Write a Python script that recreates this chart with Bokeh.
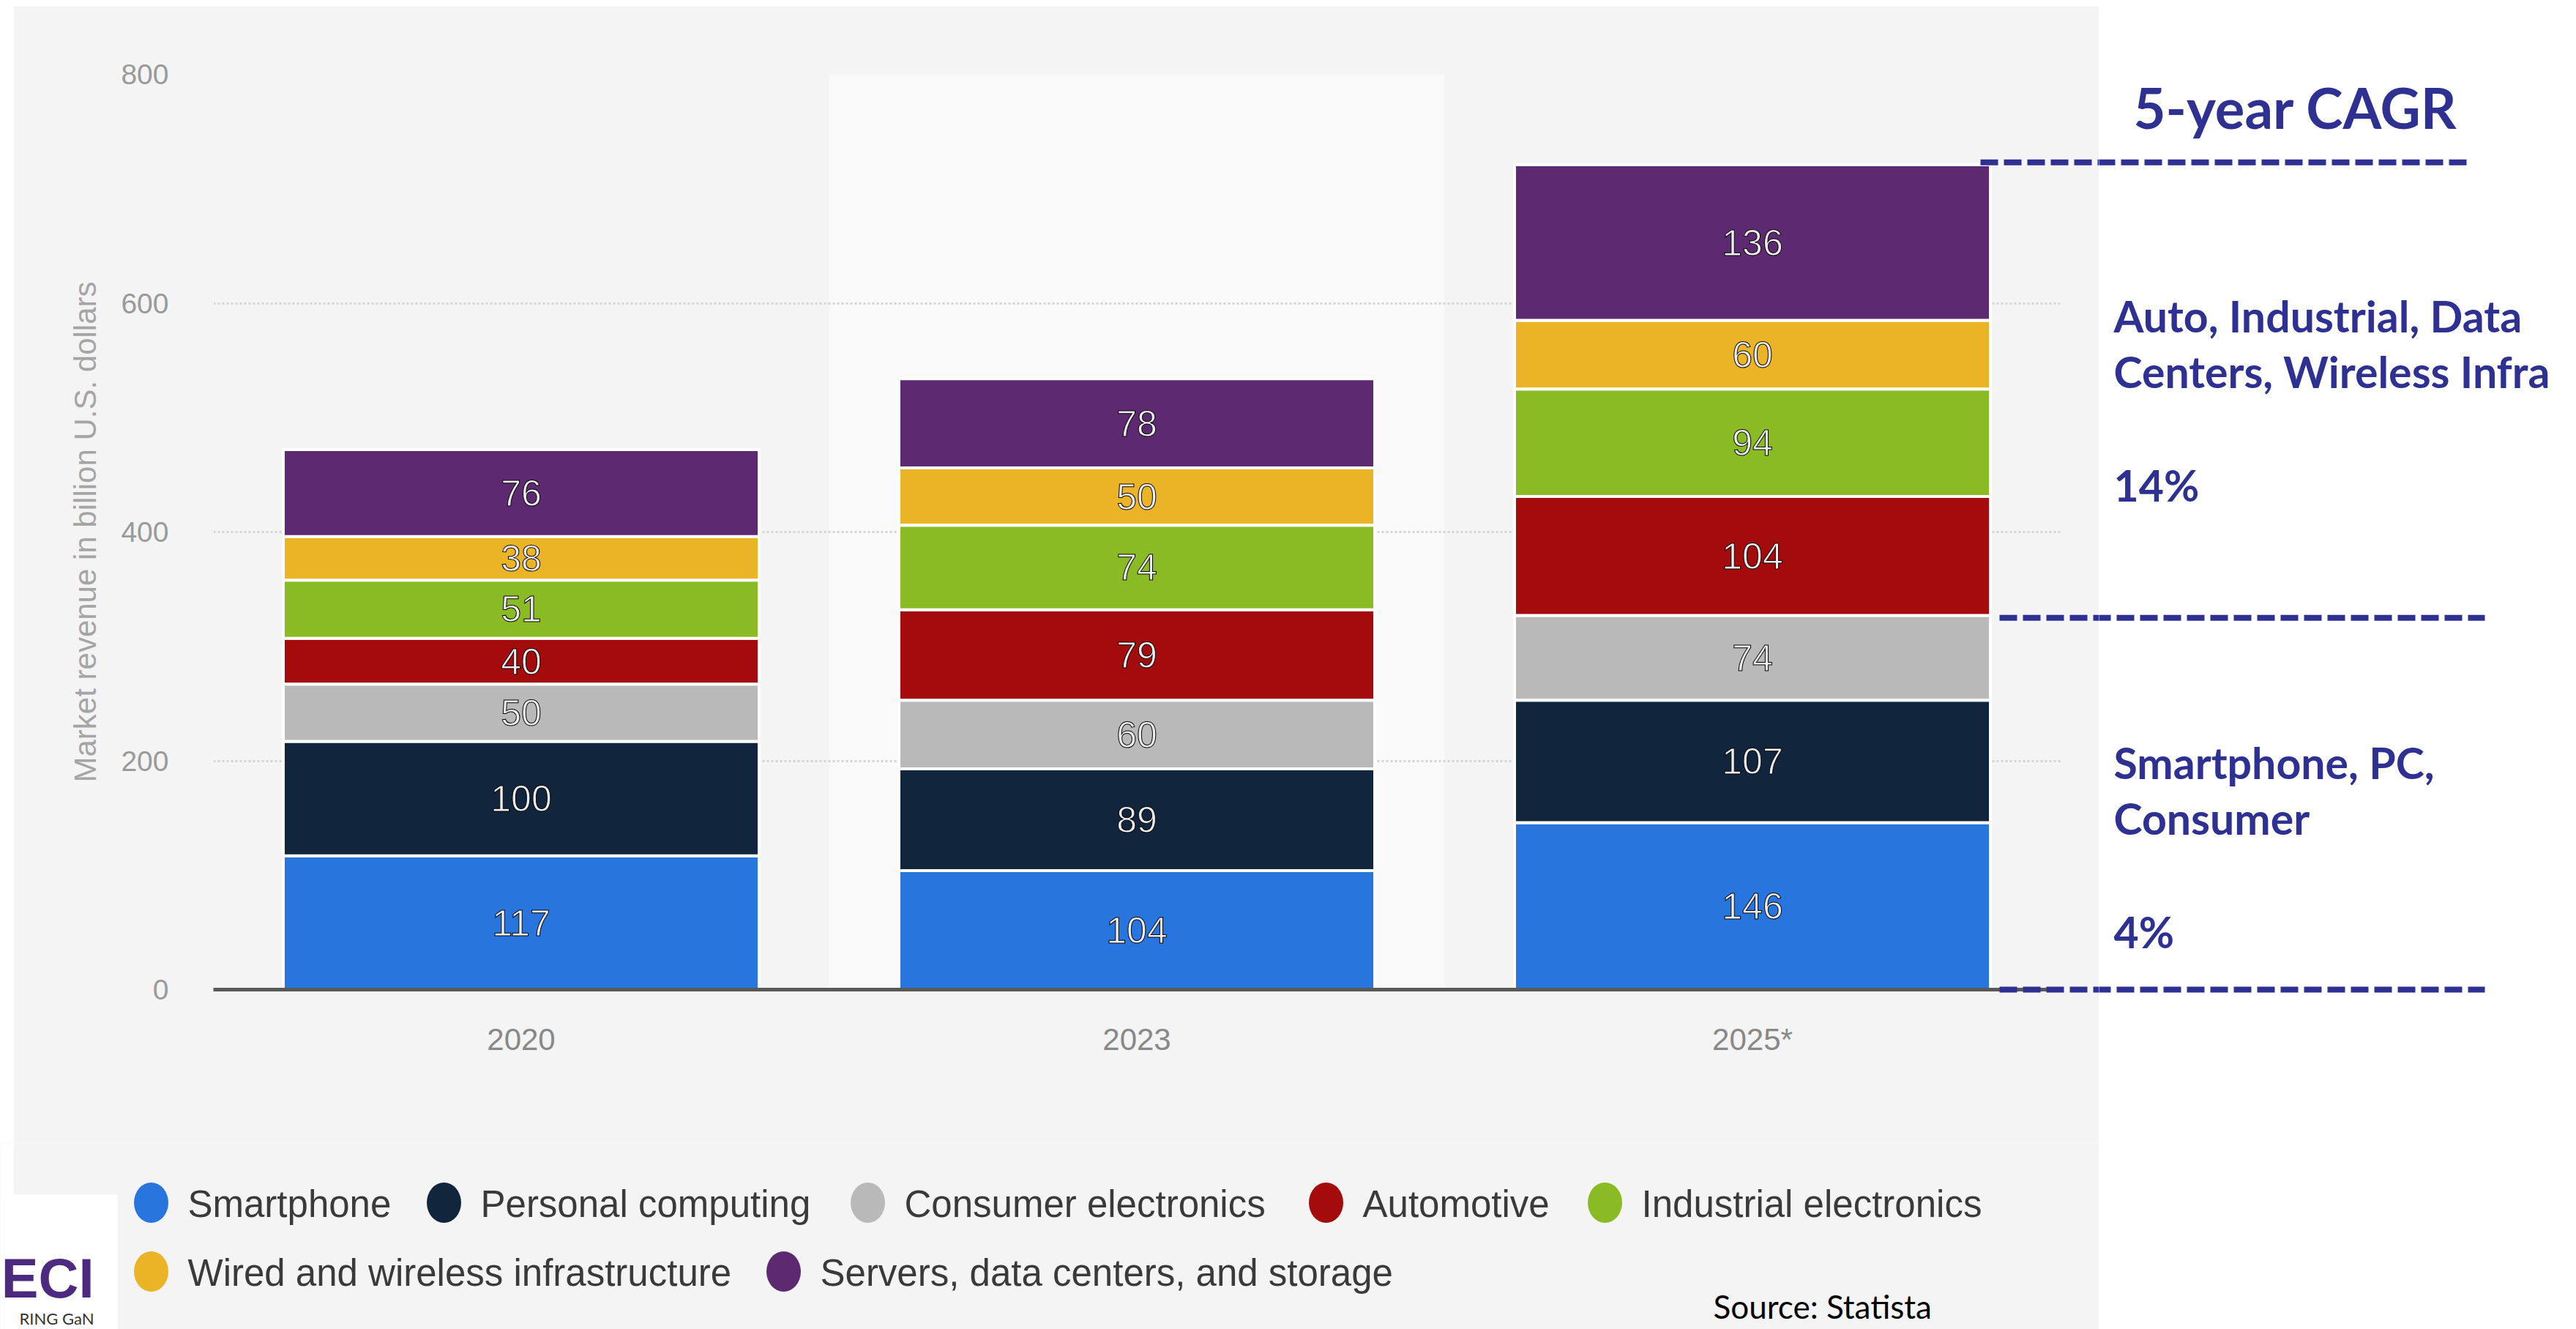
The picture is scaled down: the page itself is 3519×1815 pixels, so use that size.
import numpy as np
from bokeh.plotting import figure
from bokeh.models import Range1d, FixedTicker, Spacer, ColumnDataSource
from bokeh.layouts import row, column
from bokeh.embed import file_html
from bokeh.resources import INLINE
from bokeh.core.properties import value

# ---------------- data ----------------
YEARS = ["2020", "2023", "2025*"]
SERIES = ["Smartphone", "Personal computing", "Consumer electronics", "Automotive",
          "Industrial electronics", "Wired and wireless infrastructure",
          "Servers, data centers, and storage"]
smartphone = [117, 104, 146]
personal_computing = [100, 89, 107]
consumer_electronics = [50, 60, 74]
automotive = [40, 79, 104]
industrial_electronics = [51, 74, 94]
wired_wireless_infrastructure = [38, 50, 60]
servers_data_centers_storage = [76, 78, 136]
Y_TICKS = [0, 200, 400, 600, 800]
Y_MAX = 800
Y_LABEL = "Market revenue in billion U.S. dollars"
HIGHLIGHT = "2023"
CAGR_TITLE = "5-year CAGR"
CAGR_LEVELS = [723, 325, 0]
CAGR_GROUPS = [["Auto, Industrial, Data", "Centers, Wireless Infra"],
               ["Smartphone, PC,", "Consumer"]]
CAGR_RATES = ["14%", "4%"]
SOURCE = "Source: Statista"
LOGO_MARK = "ECI"
LOGO_TAG = "RING GaN"

# ---------------- styles ----------------
COLORS = ["#2876DD", "#11263C", "#B9B9B9", "#A30B0D", "#8ABB24", "#EBB426", "#5D2A72"]
GREY = "#F4F4F4"
NAVY = "#2E3192"
SANS = "Liberation Sans"
CAL = "Lato"

# ---------------- layout (screen px) ----------------
W, H = 3519, 1815
PANEL_L, PANEL_T = 18, 8
SPLIT_X = 2867
FRAME_L, FRAME_T, FRAME_B = 291, 101, 1351
BAND_PX = 841
BAR_W = 0.773
LEGEND_T = 1560
LOGO_R, LOGO_T = 160, 1631
PXU = (FRAME_B - FRAME_T) / Y_MAX
CAGR_X0 = [2705, 2731, 2731]
CAGR_X1 = [3369, 3394, 3394]
LEG_CX = [206, 606, 1185, 1811, 2192, 206, 1070]
LEG_CY = [1642, 1642, 1642, 1642, 1642, 1736, 1736]


def to_v(sy):
    return (FRAME_B - sy) / PXU


# ---------------- main chart ----------------
X0 = 0.5
X_END = X0 + (SPLIT_X - FRAME_L) / BAND_PX
xs = [i + 1 for i in range(len(YEARS))]

p = figure(width=SPLIT_X - PANEL_L, height=LEGEND_T - PANEL_T,
           x_range=Range1d(X0, X_END), y_range=Range1d(0, Y_MAX),
           output_backend="svg", toolbar_location=None, tools="",
           min_border_left=FRAME_L - PANEL_L, min_border_right=0,
           min_border_top=FRAME_T - PANEL_T, min_border_bottom=LEGEND_T - FRAME_B,
           background_fill_color=GREY, border_fill_color=GREY,
           outline_line_color=None)

hi = YEARS.index(HIGHLIGHT)
p.vbar(x=[xs[hi]], width=1.0, bottom=0, top=[Y_MAX], fill_color="#F9F9F9",
       line_color=None, level="image")

keys = ["smartphone", "personal_computing", "consumer_electronics", "automotive",
        "industrial_electronics", "wired_wireless_infrastructure",
        "servers_data_centers_storage"]
series_vals = [smartphone, personal_computing, consumer_electronics, automotive,
               industrial_electronics, wired_wireless_infrastructure,
               servers_data_centers_storage]
data = dict(x=xs)
for k, v in zip(keys, series_vals):
    data[k] = v
src = ColumnDataSource(data)
p.vbar_stack(keys, x="x", width=BAR_W, source=src, fill_color=COLORS,
             line_color="white", line_width=4)

vals = np.array(series_vals, dtype=float)
tops = vals.cumsum(axis=0)
mids = tops - vals / 2
lx = np.tile(xs, len(series_vals))
p.text(x=lx, y=mids.ravel(), text=[str(int(v)) for v in vals.ravel()],
       text_align="center", text_baseline="middle", text_color="#EEEEEE",
       text_outline_color="black", text_font=value(SANS), text_font_size="50px")

p.segment(x0=[X0 + (s - FRAME_L) / BAND_PX for s in CAGR_X0], y0=CAGR_LEVELS,
          x1=[X_END] * len(CAGR_LEVELS), y1=CAGR_LEVELS, line_color=NAVY,
          line_width=8, line_dash="24 8", level="overlay")

p.yaxis.ticker = FixedTicker(ticks=Y_TICKS)
p.yaxis.axis_line_color = None
p.yaxis.major_tick_line_color = None
p.yaxis.minor_tick_line_color = None
p.yaxis.major_tick_out = 0
p.yaxis.major_tick_in = 0
p.yaxis.major_label_text_font = SANS
p.yaxis.major_label_text_font_size = "39px"
p.yaxis.major_label_text_color = "#9A9A9A"
p.yaxis.major_label_standoff = 61
p.yaxis.axis_label = Y_LABEL
p.yaxis.axis_label_text_font = SANS
p.yaxis.axis_label_text_font_size = "42px"
p.yaxis.axis_label_text_font_style = "normal"
p.yaxis.axis_label_text_color = "#A5A5A5"
p.yaxis.axis_label_standoff = 22

p.xaxis.ticker = FixedTicker(ticks=xs)
p.xaxis.major_label_overrides = {x: y for x, y in zip(xs, YEARS)}
p.xaxis.axis_line_color = "#595959"
p.xaxis.axis_line_width = 5
p.xaxis.major_tick_line_color = None
p.xaxis.minor_tick_line_color = None
p.xaxis.major_tick_out = 0
p.xaxis.major_tick_in = 0
p.xaxis.bounds = (X0, X0 + len(YEARS))
p.xaxis.major_label_text_font = SANS
p.xaxis.major_label_text_font_size = "42px"
p.xaxis.major_label_text_color = "#888888"
p.xaxis.major_label_standoff = 44

p.xgrid.visible = False
p.ygrid.grid_line_color = "#D6D6D6"
p.ygrid.grid_line_width = 3
p.ygrid.grid_line_dash = "3 3"
p.ygrid.cross_bounds = (X0, X0 + len(YEARS))

# ---------------- legend / footer ----------------
lg = figure(width=SPLIT_X, height=H - LEGEND_T,
            x_range=Range1d(0, SPLIT_X), y_range=Range1d(H, LEGEND_T),
            x_axis_location=None, y_axis_location=None, min_border=0,
            output_backend="svg", toolbar_location=None, tools="",
            background_fill_color=GREY, border_fill_color=GREY,
            outline_line_color=None)
lg.grid.grid_line_color = None
lg.quad(left=[0, 0], right=[PANEL_L, LOGO_R], top=[LEGEND_T, LOGO_T],
        bottom=[H, H], fill_color="white", line_color=None)
lg.ellipse(x=LEG_CX, y=LEG_CY, width=47, height=55, fill_color=COLORS, line_color=None)
lg.text(x=[c + 50 for c in LEG_CX], y=[c + 2 for c in LEG_CY], text=SERIES,
        text_font=value(SANS), text_font_size="51px", text_color="#3A3A3A",
        text_baseline="middle")
lg.text(x=[2340], y=[1783], text=[SOURCE], text_font=value(CAL),
        text_font_size="44px", text_color="black", text_baseline="middle")
lg.text(x=[128], y=[1745], text=[LOGO_MARK], text_font=value(SANS),
        text_font_style="bold", text_font_size="76px", text_color="#4B2A7F",
        text_align="right", text_baseline="middle")
lg.text(x=[128], y=[1800], text=[LOGO_TAG], text_font=value(CAL),
        text_font_size="22px", text_color="#333333",
        text_align="right", text_baseline="middle")

# ---------------- right annotation ----------------
r = figure(width=W - SPLIT_X, height=H,
           x_range=Range1d(0, W - SPLIT_X),
           y_range=Range1d(to_v(H), to_v(0)),
           x_axis_location=None, y_axis_location=None, min_border=0,
           output_backend="svg", toolbar_location=None, tools="",
           background_fill_color="white", border_fill_color="white",
           outline_line_color=None)
r.grid.grid_line_color = None
r.segment(x0=[s - SPLIT_X for s in CAGR_X0], y0=CAGR_LEVELS,
          x1=[e - SPLIT_X for e in CAGR_X1], y1=CAGR_LEVELS, line_color=NAVY,
          line_width=8, line_dash="24 8")
r.text(x=[47], y=[to_v(146)], text=[CAGR_TITLE], text_font=value(CAL),
       text_font_style="bold", text_font_size="76px", text_color=NAVY,
       text_baseline="middle")
TXT_X = 20
grp_mid = [[431, 507], [1041, 1117]]
rate_mid = [662, 1272]
tx, ty, tt = [], [], []
for lines, mids_, rate, rm in zip(CAGR_GROUPS, grp_mid, CAGR_RATES, rate_mid):
    for ln, m in zip(lines, mids_):
        tx.append(TXT_X); ty.append(to_v(m)); tt.append(ln)
    tx.append(TXT_X); ty.append(to_v(rm)); tt.append(rate)
r.text(x=tx, y=ty, text=tt, text_font=value(CAL), text_font_style="bold",
       text_font_size="59px", text_color=NAVY, text_baseline="middle")

left_col = column(Spacer(width=SPLIT_X, height=PANEL_T),
                  row(Spacer(width=PANEL_L, height=LEGEND_T - PANEL_T), p),
                  lg)
layout = row(left_col, r)

open("out.html", "w").write(file_html(layout, INLINE, title="Semiconductor market revenue"))
